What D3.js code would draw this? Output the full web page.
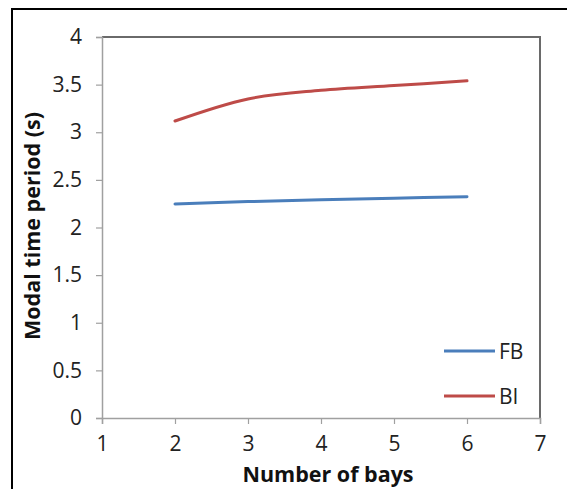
<!DOCTYPE html>
<html><head><meta charset="utf-8">
<script src="https://cdn.jsdelivr.net/npm/d3@7"></script>
<style>body{margin:0;background:#fff}svg{display:block}text{font-family:"Open Sans",sans-serif}</style>
</head><body>
<svg id="c" width="567" height="489"></svg>
<script>
const bays = [2, 3, 4, 5, 6];
const FB = [2.247, 2.272, 2.292, 2.308, 2.322];
const BI = [3.118, 3.35, 3.44, 3.49, 3.54];
const xTicks = [1, 2, 3, 4, 5, 6, 7];
const yTicks = [0, 0.5, 1, 1.5, 2, 2.5, 3, 3.5, 4];
const series = [{name: "FB", values: FB, color: "#4a7ebb"}, {name: "BI", values: BI, color: "#be4b48"}];

const svg = d3.select("#c");
svg.append("rect").attr("x", 12).attr("y", 9).attr("width", 600).attr("height", 600)
  .attr("fill", "none").attr("stroke", "#000").attr("stroke-width", 2);

const x = d3.scaleLinear().domain([1, 7]).range([102, 540]);
const y = d3.scaleLinear().domain([0, 4]).range([418, 37]);

svg.append("path").attr("d", `M${x(1)},${y(4)}H${x(7)}V${y(0)}`)
  .attr("fill", "none").attr("stroke", "#6a6a6a").attr("stroke-width", 2);

const FONT = "Open Sans, sans-serif";
const xa = svg.append("g").attr("transform", `translate(0,${y(0)})`)
  .call(d3.axisBottom(x).tickValues(xTicks).tickSize(6).tickPadding(12).tickFormat(d3.format("d")));
const ya = svg.append("g").attr("transform", `translate(${x(1)},0)`)
  .call(d3.axisLeft(y).tickValues(yTicks).tickSize(6).tickPadding(14).tickFormat(d => String(d)));
[xa, ya].forEach(g => {
  g.attr("font-size", 21).attr("font-family", FONT);
  g.select(".domain").attr("stroke", "#a0a0a0").attr("stroke-width", 1.5);
  g.selectAll(".tick line").attr("stroke", "#a0a0a0").attr("stroke-width", 1.2);
  g.selectAll(".tick text").attr("fill", "#222");
});

const line = d3.line().x((d, i) => x(bays[i])).y(d => y(d)).curve(d3.curveCatmullRom.alpha(0));
series.forEach(s => {
  svg.append("path").datum(s.values).attr("d", line).attr("fill", "none")
    .attr("stroke", s.color).attr("stroke-width", 3).attr("stroke-linecap", "round");
});

const legY = [351, 396];
series.forEach((s, i) => {
  svg.append("line").attr("x1", 444).attr("x2", 495).attr("y1", legY[i]).attr("y2", legY[i])
    .attr("stroke", s.color).attr("stroke-width", 3);
  svg.append("text").attr("x", 499).attr("y", legY[i]).attr("dy", "0.36em")
    .attr("fill", "#222").attr("font-size", 21).text(s.name);
});

svg.append("text").attr("x", 328).attr("y", 482).attr("text-anchor", "middle")
  .attr("font-size", 21.5).attr("font-weight", "bold").attr("fill", "#111").text("Number of bays");
svg.append("text").attr("transform", "translate(40,226) rotate(-90)").attr("text-anchor", "middle")
  .attr("font-size", 21.5).attr("font-weight", "bold").attr("fill", "#111").text("Modal time period (s)");
</script>
</body></html>
